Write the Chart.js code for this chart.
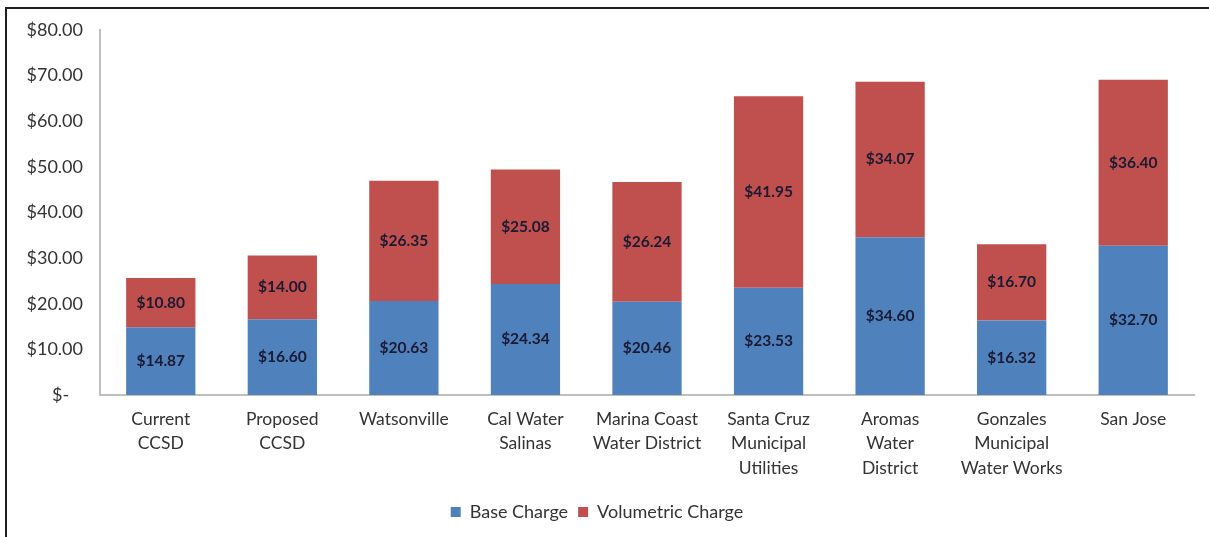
<!DOCTYPE html>
<html>
<head>
<meta charset="utf-8">
<script src="https://cdn.jsdelivr.net/npm/chart.js@4.4.0/dist/chart.umd.min.js"></script>
<style>
  html, body { margin: 0; padding: 0; background: #fff; }
  #wrap { position: relative; width: 1209px; height: 537px; overflow: hidden; }
  #frame { position: absolute; left: 5px; top: 7px; right: -10px; bottom: -10px;
           border-left: 2px solid #1e1e1e; border-top: 2px solid #1e1e1e; pointer-events: none; }
  canvas { position: absolute; left: 0; top: 0; }
</style>
</head>
<body>
<div id="wrap">
  <canvas id="c" width="1209" height="537"></canvas>
  <div id="frame"></div>
</div>
<script>
const categories = [
  ["Current", "CCSD"],
  ["Proposed", "CCSD"],
  ["Watsonville"],
  ["Cal Water", "Salinas"],
  ["Marina Coast", "Water District"],
  ["Santa Cruz", "Municipal", "Utilities"],
  ["Aromas", "Water", "District"],
  ["Gonzales", "Municipal", "Water Works"],
  ["San Jose"]
];
const baseCharge = [14.87, 16.60, 20.63, 24.34, 20.46, 23.53, 34.60, 16.32, 32.70];
const volumetricCharge = [10.80, 14.00, 26.35, 25.08, 26.24, 41.95, 34.07, 16.70, 36.40];
const yTicks = [0, 10, 20, 30, 40, 50, 60, 70, 80];

const FONT = "Lato, 'Open Sans', sans-serif";

const barLabels = {
  id: 'barLabels',
  afterDatasetsDraw(chart) {
    const ctx = chart.ctx;
    ctx.save();
    ctx.font = "bold 15.5px " + FONT;
    ctx.fillStyle = "#1a1a33";
    ctx.textAlign = "center";
    ctx.textBaseline = "middle";
    chart.data.datasets.forEach((ds, di) => {
      const meta = chart.getDatasetMeta(di);
      meta.data.forEach((bar, i) => {
        const v = ds.data[i];
        const y = (bar.y + bar.base) / 2;
        ctx.fillText("$" + v.toFixed(2), bar.x, y);
      });
    });
    ctx.restore();
  }
};

new Chart(document.getElementById('c'), {
  type: 'bar',
  data: {
    labels: categories,
    datasets: [
      { label: 'Base Charge', data: baseCharge, backgroundColor: '#4F81BD', borderWidth: 0 },
      { label: 'Volumetric Charge', data: volumetricCharge, backgroundColor: '#C0504D', borderWidth: 0 }
    ]
  },
  options: {
    responsive: false,
    animation: false,
    devicePixelRatio: 1,
    layout: { padding: { left: 0, right: 15, top: 30, bottom: 6 } },
    datasets: { bar: { categoryPercentage: 1.0, barPercentage: 0.57 } },
    plugins: {
      legend: {
        position: 'bottom',
        labels: {
          font: { family: FONT, size: 18 },
          color: '#333333',
          boxWidth: 10,
          boxHeight: 10,
          padding: 10
        }
      },
      tooltip: { enabled: false }
    },
    scales: {
      x: {
        stacked: true,
        grid: { display: false, drawTicks: false },
        border: { display: true, color: '#bfbfbf', width: 2 },
        ticks: {
          font: { family: FONT, size: 17.5, lineHeight: 1.4 },
          color: '#333333',
          padding: 12,
          maxRotation: 0,
          autoSkip: false
        },
        afterFit(s) { s.height = 98; }
      },
      y: {
        stacked: true,
        min: 0,
        max: 80,
        afterBuildTicks(s) { s.ticks = yTicks.map(v => ({ value: v })); },
        grid: { display: false, drawTicks: false },
        border: { display: true, color: '#bfbfbf', width: 2 },
        ticks: {
          font: { family: FONT, size: 18 },
          color: '#333333',
          padding: 17,
          callback: (v) => v === 0 ? '$-   ' : '$' + Number(v).toFixed(2)
        },
        afterFit(s) { s.width = 100; }
      }
    }
  },
  plugins: [barLabels]
});
</script>
</body>
</html>
